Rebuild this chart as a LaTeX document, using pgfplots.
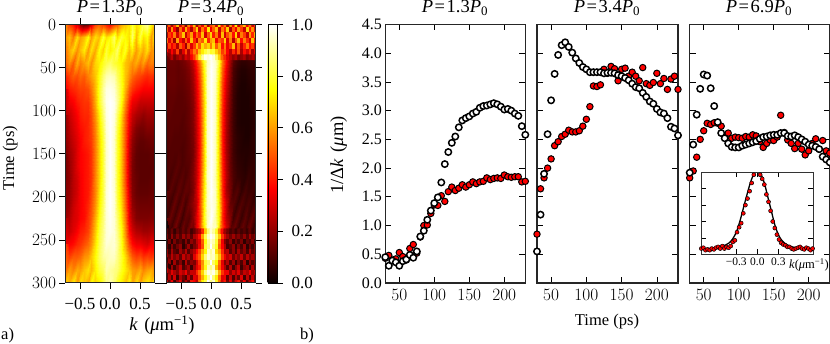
\documentclass[border=0pt]{standalone}
\usepackage{fontspec}
\setmainfont{Liberation Serif}
\usepackage{pgfplots}
\pgfplotsset{compat=1.18}
\newcommand\fa{\fontsize{16.5}{18}\selectfont}
\newcommand\fd{\fontsize{17}{18}\selectfont}
\newcommand\fb{\fontsize{16}{18}\selectfont}
\newcommand\fc{\fontsize{11.5}{13}\selectfont}
\newcommand\ttl[1]{{\fontsize{18.5}{20}\selectfont{\itshape P}\hspace{1.5pt}=\hspace{1.5pt}#1{\itshape P}\textsubscript{0}}}
\pgfplotsset{
  colormap={myhot}{rgb255(0)=(10,0,0) rgb255(365)=(255,0,0) rgb255(746)=(255,255,0) rgb255(1000)=(255,255,255)},
  heat/.style={scale only axis, width=89pt, height=258.5pt, xmin=-0.74, xmax=0.74, ymin=0, ymax=300,
    y dir=reverse, colormap name=myhot, point meta min=0, point meta max=1,
    axis background/.style={fill=black!90!red},
    axis line style={line width=1pt, draw=black!85},
    tick align=outside, tick pos=both, major tick length=6pt,
    tick style={line width=0.8pt, black},
    xtick={-0.5,0,0.5}, xticklabels={−0.5,0.0,0.5},
    ytick={0,50,100,150,200,250,300},
    tick label style={font=\fd},
    x tick label style={yshift=-5.5pt},
    axis on top},
  hm/.style={surf, shader=interp, point meta=explicit},
  nm/.style={matrix plot*, point meta=explicit},
  panel/.style={scale only axis, height=258.5pt, xmin=30, xmax=230, ymin=0, ymax=4.5,
    axis line style={line width=1.1pt, draw=black!85},
    tick align=inside, tick pos=both, major tick length=6pt,
    tick style={line width=0.7pt, black},
    xtick={50,100,150,200}, ytick={0,0.5,1,1.5,2,2.5,3,3.5,4,4.5},
    yticklabels={},
    tick label style={font=\fb},
    x tick label style={yshift=-3pt},
    axis on top},
  red pts/.style={only marks, mark=*, mark size=3.2pt, mark options={fill=red, draw=black, line width=1pt}},
  white pts/.style={only marks, mark=*, mark size=3.2pt, mark options={fill=white, draw=black, line width=1.5pt}},
}
\begin{document}
\begin{tikzpicture}[x=1pt,y=1pt]
\path[use as bounding box] (0,0) rectangle (830,344);

\begin{axis}[heat, at={(65.5pt,61pt)}, anchor=south west]
\addplot[hm, mesh/cols=25, mesh/rows=21]
 table[row sep=crcr, header=false, x expr={-0.74+0.061667*mod(\coordindex,25)}, y expr={15*floor(\coordindex/25)}, meta expr={\thisrowno{0}/100}]{
55\\45\\40\\30\\20\\12\\15\\30\\45\\50\\45\\40\\35\\45\\50\\60\\65\\70\\80\\70\\75\\85\\90\\75\\65\\
60\\65\\55\\70\\60\\65\\75\\60\\70\\65\\80\\70\\75\\85\\70\\80\\75\\70\\85\\65\\80\\70\\75\\60\\70\\
55\\62\\68\\58\\65\\72\\60\\70\\62\\75\\68\\80\\72\\78\\85\\70\\78\\65\\72\\60\\68\\62\\70\\58\\60\\
52\\58\\50\\62\\55\\60\\65\\58\\68\\72\\78\\82\\85\\80\\78\\74\\66\\62\\58\\62\\55\\60\\52\\56\\54\\
42\\46\\50\\48\\52\\50\\56\\60\\66\\76\\86\\92\\94\\92\\84\\76\\66\\58\\52\\48\\46\\44\\42\\44\\42\\
36\\40\\42\\44\\46\\46\\48\\54\\64\\78\\90\\97\\98\\96\\88\\78\\64\\50\\44\\40\\38\\36\\36\\36\\36\\
30\\34\\36\\40\\42\\44\\44\\50\\62\\78\\90\\98\\100\\98\\90\\76\\58\\42\\34\\32\\28\\28\\28\\28\\28\\
26\\28\\32\\36\\40\\42\\42\\47\\58\\72\\86\\97\\100\\97\\85\\70\\52\\36\\28\\24\\22\\20\\22\\22\\22\\
22\\26\\30\\34\\38\\40\\42\\46\\56\\70\\83\\96\\100\\96\\82\\67\\50\\33\\24\\18\\16\\16\\18\\18\\18\\
20\\24\\28\\32\\36\\40\\42\\45\\55\\68\\81\\95\\100\\95\\80\\66\\49\\30\\20\\15\\13\\13\\14\\15\\15\\
18\\22\\26\\32\\36\\38\\40\\44\\55\\68\\81\\95\\100\\95\\80\\66\\48\\28\\18\\13\\12\\12\\12\\13\\13\\
17\\21\\26\\32\\36\\38\\40\\44\\55\\68\\81\\95\\100\\95\\80\\66\\48\\28\\17\\13\\12\\12\\12\\12\\13\\
17\\20\\26\\30\\35\\38\\40\\44\\56\\68\\82\\95\\100\\95\\80\\66\\48\\28\\17\\14\\12\\12\\12\\13\\14\\
18\\21\\26\\30\\35\\38\\40\\46\\56\\70\\82\\96\\100\\96\\81\\67\\50\\30\\18\\14\\13\\13\\13\\14\\14\\
20\\22\\28\\32\\35\\38\\42\\48\\58\\72\\84\\96\\100\\96\\82\\70\\52\\32\\20\\16\\15\\15\\15\\15\\16\\
22\\25\\30\\32\\36\\38\\44\\50\\62\\76\\86\\96\\99\\96\\86\\72\\55\\33\\24\\18\\17\\17\\17\\18\\18\\
26\\28\\32\\36\\40\\42\\46\\54\\66\\80\\88\\96\\98\\96\\88\\76\\58\\38\\30\\25\\24\\22\\22\\24\\24\\
34\\36\\38\\42\\44\\48\\52\\58\\70\\82\\90\\96\\95\\96\\90\\78\\62\\46\\38\\34\\34\\32\\30\\34\\34\\
44\\46\\50\\50\\52\\58\\60\\66\\74\\84\\90\\92\\94\\94\\88\\80\\70\\58\\50\\46\\48\\44\\46\\44\\46\\
54\\60\\56\\62\\60\\66\\70\\64\\72\\80\\84\\92\\90\\88\\86\\78\\72\\66\\60\\58\\62\\56\\60\\62\\58\\
68\\64\\72\\60\\70\\66\\62\\74\\68\\72\\80\\88\\92\\86\\78\\72\\66\\74\\62\\70\\60\\68\\72\\66\\74\\
};
\end{axis}

\begin{axis}[heat, at={(166.7pt,61pt)}, anchor=south west, yticklabels={},
  colorbar,
  colorbar style={at={(1.135,0)}, anchor=south west, width=9.3pt, height=258.5pt,
    y dir=normal, ytick={0,0.2,0.4,0.6,0.8,1}, yticklabels={0.0,0.2,0.4,0.6,0.8,1.0},
    tick align=outside, ytick pos=right, major tick length=6pt, xtick=\empty,
    yticklabel pos=right, tick label style={font=\fd}, y tick label style={xshift=5pt},
    axis background/.style={}}]
% smooth middle part
\addplot[hm, mesh/cols=25, mesh/rows=14]
 table[row sep=crcr, header=false, x expr={-0.74+0.061667*mod(\coordindex,25)}, y expr={36+15.692*floor(\coordindex/25)}, meta expr={\thisrowno{0}/100}]{
14\\15\\15\\14\\16\\18\\22\\30\\42\\60\\82\\93\\98\\94\\80\\58\\40\\24\\14\\9\\7\\7\\8\\9\\9\\
13\\14\\14\\13\\14\\15\\18\\25\\36\\52\\76\\94\\100\\95\\74\\52\\34\\20\\10\\6\\4\\4\\5\\6\\7\\
13\\14\\14\\13\\13\\14\\16\\22\\32\\48\\72\\94\\100\\94\\70\\48\\30\\18\\9\\5\\3\\3\\4\\5\\6\\
12\\13\\13\\12\\12\\13\\15\\20\\30\\46\\70\\94\\100\\94\\68\\46\\28\\16\\8\\4\\3\\3\\3\\5\\6\\
12\\13\\12\\12\\12\\12\\14\\18\\28\\44\\68\\94\\100\\94\\66\\44\\26\\15\\8\\4\\3\\3\\3\\4\\6\\
11\\12\\12\\12\\11\\12\\14\\18\\27\\43\\68\\94\\100\\94\\66\\43\\25\\14\\8\\4\\3\\3\\3\\4\\5\\
11\\12\\11\\11\\11\\11\\13\\17\\26\\42\\68\\94\\100\\93\\66\\42\\24\\14\\8\\5\\4\\3\\3\\5\\6\\
10\\11\\11\\11\\10\\11\\13\\16\\25\\42\\68\\94\\100\\93\\66\\42\\24\\14\\8\\5\\4\\4\\4\\5\\6\\
9\\11\\10\\12\\10\\11\\12\\17\\26\\43\\68\\93\\100\\93\\66\\43\\25\\14\\9\\6\\5\\4\\5\\6\\7\\
10\\9\\12\\10\\12\\10\\13\\18\\26\\44\\70\\94\\100\\92\\68\\44\\26\\15\\10\\7\\6\\5\\7\\6\\8\\
8\\12\\9\\13\\10\\13\\12\\17\\28\\46\\72\\93\\100\\94\\68\\44\\24\\16\\9\\11\\6\\9\\7\\8\\6\\
12\\8\\14\\9\\14\\9\\15\\20\\26\\48\\74\\94\\98\\94\\70\\46\\28\\14\\12\\7\\11\\8\\10\\7\\10\\
7\\14\\9\\15\\8\\13\\11\\19\\30\\46\\76\\92\\100\\91\\72\\44\\26\\18\\8\\13\\7\\12\\8\\13\\7\\
14\\8\\16\\7\\15\\10\\17\\15\\32\\50\\72\\95\\96\\95\\66\\48\\30\\14\\15\\8\\14\\9\\15\\8\\13\\
};
% noisy early part
\addplot[nm, mesh/cols=33, mesh/rows=7]
 table[row sep=crcr, header=false, x expr={-0.74+0.04625*mod(\coordindex,33)}, y expr={6.333*floor(\coordindex/33)}, meta expr={\thisrowno{0}/100}]{
30\\50\\25\\45\\65\\30\\50\\20\\55\\40\\65\\25\\50\\35\\60\\25\\45\\55\\30\\70\\40\\55\\25\\60\\35\\72\\30\\50\\65\\35\\55\\30\\45\\
50\\28\\58\\35\\20\\52\\32\\62\\42\\25\\48\\68\\30\\55\\40\\72\\35\\50\\65\\28\\55\\42\\68\\25\\50\\35\\60\\45\\28\\68\\40\\58\\32\\
25\\45\\38\\55\\30\\48\\66\\28\\45\\60\\35\\52\\42\\65\\30\\50\\68\\40\\55\\32\\65\\30\\48\\58\\38\\68\\32\\55\\45\\28\\60\\42\\65\\
52\\32\\48\\22\\60\\38\\28\\50\\35\\66\\42\\28\\56\\50\\72\\42\\60\\65\\35\\50\\45\\68\\32\\55\\26\\48\\64\\38\\56\\42\\30\\66\\38\\
28\\46\\34\\42\\25\\50\\40\\22\\52\\32\\45\\64\\50\\70\\62\\68\\55\\70\\50\\62\\38\\55\\34\\45\\65\\30\\50\\28\\42\\55\\38\\45\\28\\
38\\24\\36\\26\\45\\20\\32\\46\\26\\42\\55\\48\\65\\72\\80\\85\\78\\80\\68\\60\\45\\52\\36\\26\\42\\30\\48\\24\\38\\30\\42\\22\\34\\
22\\18\\26\\16\\22\\26\\20\\30\\26\\36\\45\\60\\78\\90\\98\\96\\100\\96\\85\\68\\52\\42\\32\\26\\20\\24\\16\\20\\24\\16\\20\\24\\20\\
};
% noisy late part
\addplot[nm, mesh/cols=33, mesh/rows=11]
 table[row sep=crcr, header=false, x expr={-0.74+0.04625*mod(\coordindex,33)}, y expr={240+6*floor(\coordindex/33)}, meta expr={\thisrowno{0}/100}]{
12\\7\\14\\6\\13\\9\\14\\10\\15\\8\\13\\20\\26\\42\\66\\86\\96\\90\\78\\56\\38\\22\\15\\9\\12\\7\\12\\8\\11\\7\\13\\7\\11\\
16\\8\\20\\10\\18\\11\\22\\14\\20\\12\\24\\28\\38\\60\\82\\94\\100\\96\\84\\66\\44\\30\\22\\15\\22\\14\\18\\12\\20\\11\\22\\14\\18\\
7\\15\\5\\17\\9\\13\\7\\18\\9\\20\\15\\26\\32\\50\\76\\90\\96\\92\\80\\54\\34\\18\\12\\20\\7\\15\\9\\17\\5\\13\\10\\18\\8\\
13\\5\\18\\8\\15\\20\\5\\12\\21\\9\\17\\22\\34\\48\\80\\88\\100\\88\\78\\50\\36\\24\\9\\13\\20\\7\\17\\9\\20\\5\\15\\9\\18\\
20\\8\\23\\12\\9\\22\\14\\25\\11\\20\\26\\36\\46\\62\\74\\94\\90\\96\\70\\60\\42\\24\\26\\11\\20\\9\\23\\13\\19\\9\\23\\12\\18\\
24\\14\\26\\17\\23\\13\\28\\18\\24\\15\\32\\42\\50\\68\\86\\96\\92\\94\\82\\66\\46\\34\\26\\30\\15\\24\\18\\28\\14\\26\\17\\23\\19\\
7\\20\\5\\23\\10\\18\\7\\25\\12\\20\\17\\30\\44\\58\\80\\86\\100\\84\\74\\52\\32\\17\\25\\11\\22\\7\\18\\10\\23\\5\\20\\11\\17\\
18\\5\\22\\8\\18\\27\\10\\16\\22\\7\\22\\32\\40\\60\\76\\92\\88\\94\\66\\50\\34\\24\\11\\25\\8\\19\\27\\7\\18\\22\\8\\25\\13\\
28\\20\\32\\24\\18\\30\\25\\34\\20\\28\\28\\42\\52\\68\\88\\98\\94\\98\\86\\62\\44\\34\\34\\20\\30\\22\\32\\18\\28\\24\\34\\20\\26\\
8\\25\\11\\30\\7\\24\\15\\10\\27\\13\\32\\30\\48\\62\\76\\90\\100\\86\\72\\52\\32\\34\\12\\28\\10\\25\\14\\32\\8\\27\\11\\28\\15\\
30\\12\\36\\7\\24\\34\\10\\26\\13\\40\\36\\26\\56\\74\\82\\100\\88\\96\\78\\56\\30\\40\\16\\34\\13\\30\\40\\18\\36\\10\\26\\38\\15\\
};
\end{axis}

\begin{axis}[panel, at={(385.3pt,61pt)}, anchor=south west, width=140pt,
  yticklabels={0.0,0.5,1.0,1.5,2.0,2.5,3.0,3.5,4.0,4.5}]
\addplot[red pts] coordinates {(30,.43)(35,.48)(40,.40)(45,.42)(50,.53)(55,.46)(60,.40)(65,.60)(70,.67)(75,.52)(80,.80)(85,1.0)(90,1.01)(95,1.21)(100,1.36)(105,1.35)(110,1.52)(115,1.42)(120,1.59)(125,1.67)(130,1.61)(135,1.65)(140,1.71)(145,1.67)(150,1.71)(155,1.76)(160,1.73)(165,1.76)(170,1.77)(175,1.83)(180,1.80)(185,1.82)(190,1.83)(195,1.82)(200,1.88)(205,1.85)(210,1.84)(215,1.85)(220,1.85)(225,1.76)(230,1.77)};
\addplot[white pts] coordinates {(30,.45)(35,.30)(40,.39)(45,.36)(50,.30)(55,.38)(60,.41)(65,.49)(70,.44)(75,.55)(80,.81)(85,.91)(90,1.10)(95,1.26)(100,1.39)(105,1.49)(110,1.75)(115,2.07)(120,2.28)(125,2.44)(130,2.55)(135,2.71)(140,2.83)(145,2.87)(150,2.90)(155,2.95)(160,2.98)(165,3.05)(170,3.08)(175,3.09)(180,3.11)(185,3.13)(190,3.11)(195,3.07)(200,3.02)(205,3.03)(210,3.00)(215,2.95)(220,2.91)(225,2.73)(230,2.58)};
\end{axis}

\begin{axis}[panel, at={(537pt,61pt)}, anchor=south west, width=141pt]
\addplot[red pts] coordinates {(30,.85)(35,1.64)(40,1.83)(45,2.00)(50,2.16)(55,2.39)(60,2.46)(65,2.55)(70,2.59)(75,2.66)(80,2.63)(85,2.63)(90,2.65)(95,2.73)(100,2.85)(105,3.07)(110,3.43)(115,3.42)(120,3.45)(125,3.72)(130,3.65)(135,3.77)(140,3.73)(145,3.52)(150,3.72)(155,3.74)(160,3.60)(165,3.67)(170,3.60)(175,3.52)(180,3.75)(185,3.47)(190,3.44)(195,3.49)(200,3.65)(205,3.47)(210,3.56)(215,3.37)(220,3.55)(225,3.60)(230,3.37)};
\addplot[white pts] coordinates {(30,.55)(35,1.19)(40,1.90)(45,2.59)(50,3.18)(55,3.64)(60,3.97)(65,4.14)(70,4.19)(75,4.11)(80,4.01)(85,3.91)(90,3.83)(95,3.76)(100,3.72)(105,3.67)(110,3.67)(115,3.67)(120,3.67)(125,3.65)(130,3.66)(135,3.66)(140,3.65)(145,3.62)(150,3.60)(155,3.57)(160,3.53)(165,3.47)(170,3.41)(175,3.39)(180,3.31)(185,3.24)(190,3.16)(195,3.12)(200,3.03)(205,2.97)(210,2.95)(215,2.87)(220,2.72)(225,2.69)(230,2.57)};
\end{axis}

\begin{axis}[panel, at={(689.7pt,61pt)}, anchor=south west, width=140pt]
\addplot[red pts] coordinates {(30,1.83)(35,1.95)(40,2.19)(45,2.50)(50,2.65)(55,2.78)(60,2.76)(65,2.79)(70,2.78)(75,2.73)(80,2.55)(85,2.61)(90,2.52)(95,2.54)(100,2.53)(105,2.52)(110,2.55)(115,2.54)(120,2.58)(125,2.56)(130,2.46)(135,2.36)(140,2.43)(145,2.49)(150,2.48)(155,2.54)(160,2.92)(165,2.62)(170,2.49)(175,2.43)(180,2.34)(185,2.43)(190,2.33)(195,2.23)(200,2.30)(205,2.43)(210,2.51)(215,2.33)(220,2.48)(225,2.30)(230,2.26)};
\addplot[white pts] coordinates {(30,1.92)(35,2.41)(40,2.93)(45,3.38)(50,3.63)(55,3.61)(60,3.39)(65,3.08)(70,2.80)(75,2.61)(80,2.52)(85,2.43)(90,2.37)(95,2.36)(100,2.36)(105,2.39)(110,2.41)(115,2.43)(120,2.45)(125,2.47)(130,2.51)(135,2.54)(140,2.55)(145,2.57)(150,2.58)(155,2.58)(160,2.61)(165,2.61)(170,2.56)(175,2.55)(180,2.57)(185,2.54)(190,2.50)(195,2.46)(200,2.41)(205,2.39)(210,2.37)(215,2.33)(220,2.20)(225,2.15)(230,2.10)};
\end{axis}

\begin{axis}[scale only axis, at={(701.3pt,89.7pt)}, anchor=south west, width=112pt, height=82pt,
  xmin=-0.8, xmax=0.8, ymin=0, ymax=1,
  axis background/.style={fill=white},
  axis line style={line width=1pt, draw=black!80},
  tick align=inside, tick pos=both, major tick length=5pt, tick style={line width=0.7pt, black},
  xtick={-0.3,0,0.3}, xticklabels={−0.3,0.0,0.3}, ytick={0,0.2,0.4,0.6,0.8,1}, yticklabels={},
  tick label style={font=\fc}, axis on top]
\addplot[black, line width=1.3pt, smooth] coordinates {(-.8,.07)(-.75,.07)(-.7,.07)(-.65,.075)(-.6,.08)(-.55,.09)(-.5,.10)(-.45,.115)(-.4,.14)(-.35,.19)(-.3,.27)(-.25,.40)(-.2,.56)(-.15,.72)(-.1,.87)(-.05,.98)(0,1.02)(.05,.98)(.1,.87)(.15,.70)(.2,.53)(.25,.36)(.3,.24)(.35,.17)(.4,.13)(.45,.105)(.5,.09)(.55,.08)(.6,.075)(.65,.07)(.7,.07)(.75,.07)(.8,.07)};
\addplot[only marks, mark=*, mark size=2pt, mark options={fill=red, draw=black, line width=0.5pt}] coordinates {(-.80,.07)(-.77,.08)(-.74,.05)(-.71,.06)(-.68,.05)(-.65,.07)(-.62,.06)(-.59,.08)(-.56,.09)(-.53,.07)(-.50,.10)(-.47,.07)(-.44,.09)(-.41,.08)(-.38,.10)(-.35,.15)(-.32,.17)(-.29,.27)(-.26,.33)(-.23,.38)(-.20,.50)(-.17,.60)(-.14,.68)(-.11,.77)(-.08,.87)(-.05,.97)(-.02,1.01)(.01,1.03)(.04,.97)(.07,.92)(.10,.85)(.13,.73)(.16,.64)(.19,.53)(.22,.40)(.25,.32)(.28,.24)(.31,.18)(.34,.14)(.37,.12)(.40,.11)(.43,.09)(.46,.09)(.49,.07)(.52,.06)(.55,.07)(.58,.08)(.61,.09)(.64,.07)(.67,.06)(.70,.08)(.73,.07)(.76,.05)(.79,.07)};
\end{axis}

\node[anchor=base,inner sep=0] at (110,331.5) {\ttl{1.3}};
\node[anchor=base,inner sep=0] at (211,331.5) {\ttl{3.4}};
\node[anchor=base,inner sep=0] at (455,331.5) {\ttl{1.3}};
\node[anchor=base,inner sep=0] at (607,331.5) {\ttl{3.4}};
\node[anchor=base,inner sep=0] at (759,331.5) {\ttl{6.9}};
\node[anchor=base west,inner sep=0,font=\fa] at (1,4.5) {a)};
\node[anchor=base west,inner sep=0,font=\fa] at (300,4.5) {b)};
\node[anchor=base,inner sep=0] at (162,13) {\fontsize{18.5}{20}\selectfont{\itshape k}\hspace{2pt} ({\itshape μ}m\textsuperscript{−1})};
\node[anchor=base,inner sep=0,font=\fa] at (607,18) {Time (ps)};
\node[anchor=base,inner sep=0,font=\fa,rotate=90] at (14,186) {Time (ps)};
\node[anchor=base,inner sep=0,rotate=90] at (343,189) {\fontsize{18.5}{20}\selectfont 1/Δ{\itshape k}\hspace{2pt} ({\itshape μ}m)};
\node[anchor=base west,inner sep=0] at (789,75) {\fontsize{12.5}{13}\selectfont{\itshape k}({\itshape μ}m\textsuperscript{−1})};
\end{tikzpicture}
\end{document}
